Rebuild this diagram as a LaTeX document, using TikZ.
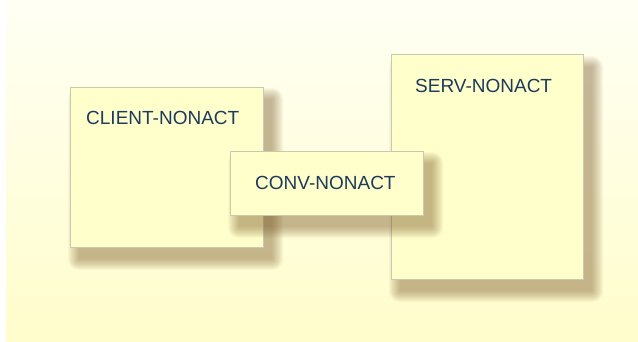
\documentclass[tikz,border=0pt]{standalone}
\usepackage{fontspec}
\setmainfont{Liberation Sans}
\definecolor{bgtop}{HTML}{FFFFF4}
\definecolor{bgbot}{HTML}{FFFDCB}
\definecolor{boxfill}{HTML}{FFFFCC}
\definecolor{boxline}{HTML}{C9C9B0}
\definecolor{shadowc}{HTML}{7A5A28}
\definecolor{txt}{HTML}{1E3A5C}
\newcommand{\myshadow}[1]{%
  \foreach \e in {11,10,...,0}{%
    \fill[shadowc, opacity=0.045, rounded corners=\e pt]
      ([shift={(9pt-\e pt,-12pt-\e pt)}]#1.south west) rectangle
      ([shift={(9pt+\e pt,-12pt+\e pt)}]#1.north east);
  }%
}
\tikzset{
  panel/.style={draw=boxline, line width=1pt, fill=boxfill, anchor=north west,
    inner sep=0pt, outer sep=0pt},
  lbl/.style={anchor=base west, inner sep=0pt, text=txt, font=\fontsize{19}{22}\selectfont}
}
\begin{document}
\begin{tikzpicture}[x=1pt,y=1pt]
\useasboundingbox (0,0) rectangle (638,341);
\shade[top color=bgtop, bottom color=bgbot] (6,0) rectangle (638,341);
% client: (70,87)-(263,247)
\path (70,254) node[panel, draw=none, fill=none, minimum width=193pt, minimum height=160pt] (clientsh) {};
\myshadow{clientsh}
\node[panel, minimum width=193pt, minimum height=160pt] (client) at (70,254) {};
\node[lbl] (clientlbl) at (86,217) {CLIENT-NONACT};
% serv: (391,55)-(583,279)
\path (391,286) node[panel, draw=none, fill=none, minimum width=192pt, minimum height=224pt] (servsh) {};
\myshadow{servsh}
\node[panel, minimum width=192pt, minimum height=224pt] (serv) at (391,286) {};
\node[lbl] (servlbl) at (415,248) {SERV-NONACT};
% conv: (230,151)-(423,215)
\path (230,190) node[panel, draw=none, fill=none, minimum width=193pt, minimum height=64pt] (convsh) {};
\myshadow{convsh}
\node[panel, minimum width=193pt, minimum height=64pt] (conv) at (230,190) {};
\node[lbl] (convlbl) at (255,152) {CONV-NONACT};
\end{tikzpicture}
\end{document}
